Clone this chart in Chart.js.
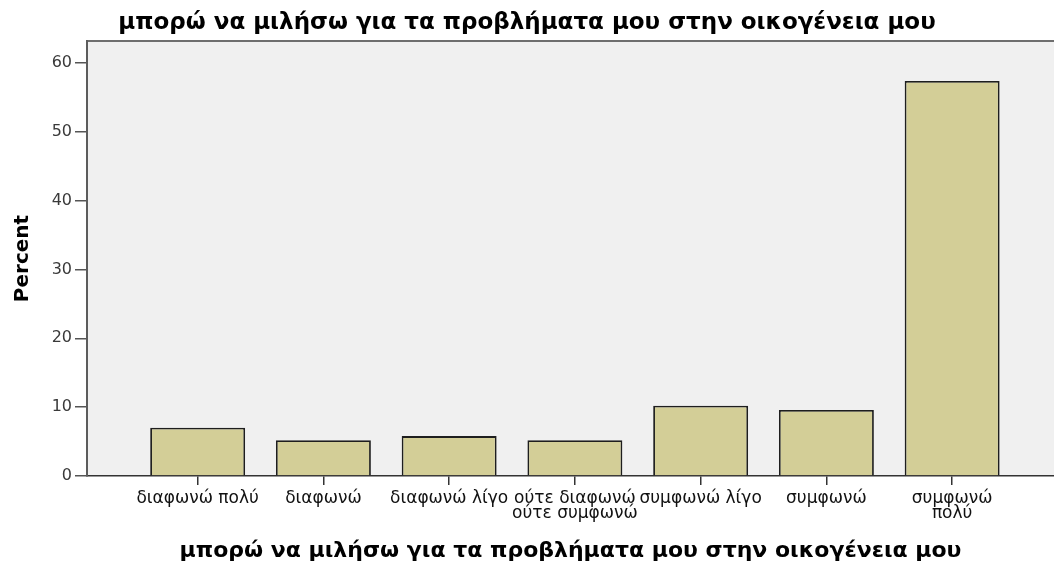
<!DOCTYPE html>
<html>
<head>
<meta charset="utf-8">
<script src="https://cdn.jsdelivr.net/npm/chart.js@4/dist/chart.umd.min.js"></script>
<style>
  body { margin: 0; background: #fff; }
</style>
</head>
<body>
<canvas id="chart" width="1054" height="566"></canvas>
<script>
  const chartTitle = 'μπορώ να μιλήσω για τα προβλήματα μου στην οικογένεια μου';
  const xTitle = 'μπορώ να μιλήσω για τα προβλήματα μου στην οικογένεια μου';
  const yTitle = 'Percent';

  const categories = [
    'διαφωνώ πολύ',
    'διαφωνώ',
    'διαφωνώ λίγο',
    ['ούτε διαφωνώ', 'ούτε συμφωνώ'],
    'συμφωνώ λίγο',
    'συμφωνώ',
    ['συμφωνώ', 'πολύ']
  ];
  const percent = [7.0, 5.2, 5.8, 5.2, 10.2, 9.6, 57.4];
  const yTicks = [0, 10, 20, 30, 40, 50, 60];

  const font = 'DejaVu Sans, Verdana, sans-serif';

  // grey plot panel with a top rule, like the SPSS frame
  const plotFrame = {
    id: 'plotFrame',
    beforeDraw(chart) {
      const { ctx, chartArea: a } = chart;
      ctx.save();
      ctx.fillStyle = '#f0f0f0';
      ctx.fillRect(a.left, a.top, a.right - a.left, a.bottom - a.top);
      ctx.strokeStyle = '#6e6e6e';
      ctx.lineWidth = 2;
      ctx.beginPath();
      ctx.moveTo(a.left, a.top);
      ctx.lineTo(a.right, a.top);
      ctx.stroke();
      ctx.restore();
    }
  };

  new Chart(document.getElementById('chart'), {
    type: 'bar',
    data: {
      datasets: [{
        label: yTitle,
        data: percent.map((v, i) => ({ x: i, y: v })),
        backgroundColor: '#d3ce97',
        borderColor: '#1e1e1e',
        borderWidth: 1.8,
        categoryPercentage: 1,
        barPercentage: 0.755
      }]
    },
    options: {
      responsive: false,
      animation: false,
      devicePixelRatio: 1,
      layout: { padding: 0 },
      plugins: {
        legend: { display: false },
        tooltip: { enabled: false },
        title: {
          display: true,
          text: chartTitle,
          color: '#000',
          font: { family: font, size: 23, weight: 'bold', lineHeight: 1.2 },
          padding: { top: 9.5, bottom: 3.9 }
        }
      },
      scales: {
        x: {
          type: 'linear',
          min: -0.88,
          max: 6.81,
          offset: false,
          afterBuildTicks: s => { s.ticks = categories.map((c, i) => ({ value: i })); },
          afterFit: s => { s.height = 90; },
          ticks: {
            autoSkip: false,
            maxRotation: 0,
            color: '#111',
            padding: 6,
            font: { family: font, size: 17, lineHeight: 0.9 },
            callback: v => categories[v]
          },
          grid: { offset: false, drawOnChartArea: false, drawTicks: true, tickLength: 9, color: '#333', lineWidth: 1.5 },
          border: { color: '#333', width: 1.5 },
          title: {
            display: true,
            text: xTitle,
            color: '#000',
            font: { family: font, size: 22, weight: 'bold', lineHeight: 1.2 },
            padding: { top: 0, bottom: 1.4 }
          }
        },
        y: {
          min: 0,
          max: 63.2,
          afterBuildTicks: s => { s.ticks = yTicks.map(v => ({ value: v })); },
          afterFit: s => { s.width = 87; },
          ticks: {
            color: '#3a3a3a',
            padding: 3,
            font: { family: font, size: 16 }
          },
          grid: { drawOnChartArea: false, drawTicks: true, tickLength: 12, color: '#555', lineWidth: 1.5 },
          border: { color: '#5c5c5c', width: 2 },
          title: {
            display: true,
            text: yTitle,
            color: '#000',
            font: { family: font, size: 20, weight: 'bold', lineHeight: 1.2 },
            padding: { top: 11, bottom: 0 }
          }
        }
      }
    },
    plugins: [plotFrame]
  });
</script>
</body>
</html>
